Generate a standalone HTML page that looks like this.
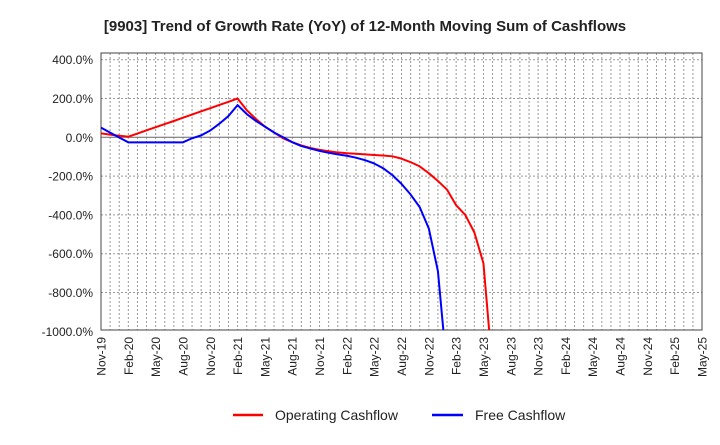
<!DOCTYPE html>
<html><head><meta charset="utf-8"><style>
body{margin:0;background:#fff;font-family:"Liberation Sans",Arial,sans-serif;}
svg text{font-family:"Liberation Sans",Arial,sans-serif;}
</style></head><body>
<svg id="c" width="720" height="440" xmlns="http://www.w3.org/2000/svg">
<text x="365" y="31" text-anchor="middle" font-size="15" font-weight="bold" fill="#222">[9903]  Trend of Growth Rate (YoY) of 12-Month Moving Sum of Cashflows</text>
<g id="grid"></g><g id="axes"></g><g id="series"></g>
<g>
<line x1="233" y1="415" x2="263" y2="415" stroke="#f00" stroke-width="2.5"/>
<text x="275" y="420" font-size="14" fill="#222">Operating Cashflow</text>
<line x1="432" y1="415" x2="463" y2="415" stroke="#00f" stroke-width="2.5"/>
<text x="475" y="420" font-size="14" fill="#222">Free Cashflow</text>
</g>
</svg>
<script>
const xLabels=["Nov-19","Feb-20","May-20","Aug-20","Nov-20","Feb-21","May-21","Aug-21","Nov-21","Feb-22","May-22","Aug-22","Nov-22","Feb-23","May-23","Aug-23","Nov-23","Feb-24","May-24","Aug-24","Nov-24","Feb-25","May-25"];
const yTicks=[400,200,0,-200,-400,-600,-800,-1000];
const operating=[20,14,8,3,19,36,52,68,84,101,117,134,150,167,183,200,140,95,55,25,-5,-25,-42,-55,-65,-72,-78,-82,-85,-88,-91,-94,-98,-110,-128,-150,-185,-225,-270,-350,-400,-490,-650,-1200];
const free=[50,24,-1,-26,-26,-26,-26,-26,-26,-26,-5,10,35,70,110,166,120,85,55,25,0,-25,-45,-58,-70,-80,-88,-95,-105,-118,-135,-160,-195,-240,-295,-360,-470,-690,-1200];
const L=101,R=702,T=53,B=330,months=66;
const X=i=>L+i*(R-L)/months;
const Y=v=>137.3-v*(38.8/200);
const ns="http://www.w3.org/2000/svg";
function mk(t,a,p){const e=document.createElementNS(ns,t);for(const k in a)e.setAttribute(k,a[k]);p.appendChild(e);return e;}
const grid=document.getElementById('grid'),axes=document.getElementById('axes'),ser=document.getElementById('series');
for(let m=1;m<months;m++){const l=mk('line',{x1:X(m),x2:X(m),y1:T,y2:B,stroke:'#999','stroke-dasharray':'2,2','stroke-width':1},grid);

}
yTicks.forEach(v=>{const y=Y(v);
if(v!==0&&v!==-1000){const g=mk('line',{x1:L,x2:R,y1:y,y2:y,stroke:'#999','stroke-dasharray':'2,2'},grid);

}
const t=mk('text',{x:93,y:y+4.5,'text-anchor':'end','font-size':12,fill:'#222'},axes);t.textContent=v.toFixed(1)+'%';

});
const z=mk('line',{x1:L,x2:R,y1:Y(0),y2:Y(0),stroke:'#666','stroke-width':1},grid);


const fr=mk('rect',{x:L,y:T,width:R-L,height:B-T,fill:'none',stroke:'#444','stroke-width':1},axes);


xLabels.forEach((s,i)=>{const x=X(i*3)+4.5;const t=mk('text',{x:0,y:0,transform:`translate(${x},337) rotate(-90)`,'text-anchor':'end','font-size':12,fill:'#222'},axes);t.textContent=s;

});
const clip=mk('clipPath',{id:'cp'},document.getElementById('c'));mk('rect',{x:L,y:T,width:R-L,height:B-T},clip);
function line(d,c,name){const p=mk('polyline',{points:d.map((v,i)=>X(i)+','+Y(v)).join(' '),fill:'none',stroke:c,'stroke-width':2,'clip-path':'url(#cp)','stroke-linejoin':'round'},ser);

}
line(operating,'#f00','operating-cashflow-line');
line(free,'#00f','free-cashflow-line');
</script>
</body></html>
